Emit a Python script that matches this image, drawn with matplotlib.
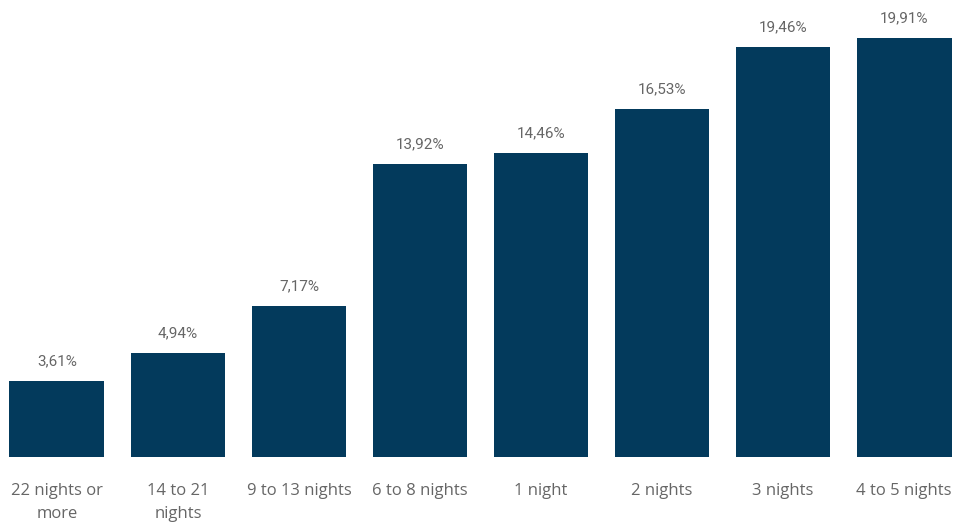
import matplotlib
matplotlib.use("Agg")
import matplotlib.pyplot as plt

categories = ["22 nights or\nmore", "14 to 21\nnights", "9 to 13 nights", "6 to 8 nights",
              "1 night", "2 nights", "3 nights", "4 to 5 nights"]
values = [3.61, 4.94, 7.17, 13.92, 14.46, 16.53, 19.46, 19.91]

bar_color = "#033A5C"
label_color = "#666666"

fig = plt.figure(figsize=(9.61, 5.23), dpi=100)
ax = fig.add_axes([0, 66 / 523, 1, 457 / 523])

x = range(len(values))
ax.bar(x, values, width=0.785, color=bar_color)

for xi, v in zip(x, values):
    ax.text(xi, v + 0.6, f"{v:.2f}%".replace(".", ","), ha="center", va="bottom",
            fontsize=11, color=label_color, family="Roboto")

ax.set_xlim(-0.471, 7.471)
ax.set_ylim(0, 21.71)
ax.set_xticks(list(x))
ax.set_xticklabels(categories, fontsize=12, color=label_color, family="Open Sans",
                   linespacing=1.55, va="top")
ax.tick_params(axis="x", length=0, pad=19)
ax.set_yticks([])
for s in ax.spines.values():
    s.set_visible(False)

fig.savefig("out.png", dpi=100)
